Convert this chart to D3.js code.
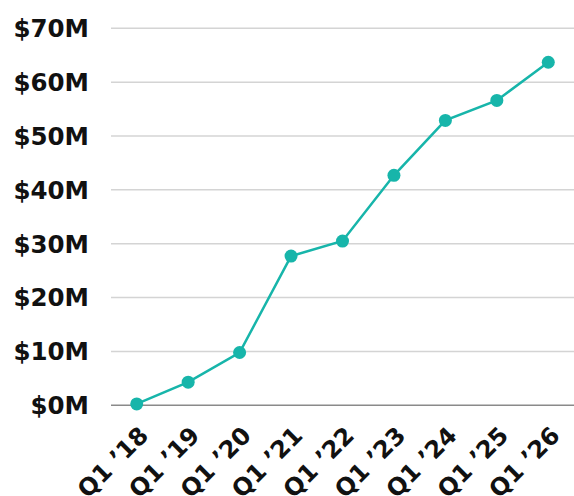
<!DOCTYPE html>
<html>
<head>
<meta charset="utf-8">
<script src="https://cdn.jsdelivr.net/npm/d3@7/dist/d3.min.js"></script>
<style>
  body { margin: 0; background: #fff; }
  text { font-family: "DejaVu Sans", sans-serif; font-weight: 700; fill: #111; }
</style>
</head>
<body>
<div id="main"></div>
<script>
const ctx = {
    w: 574,
    h: 496,
};

const quarters = ["Q1 \u201918", "Q1 \u201919", "Q1 \u201920", "Q1 \u201921", "Q1 \u201922",
                  "Q1 \u201923", "Q1 \u201924", "Q1 \u201925", "Q1 \u201926"];
const revenue = [0.25, 4.3, 9.8, 27.7, 30.5, 42.7, 52.9, 56.6, 63.7]; // $M
const yTicks = [0, 10, 20, 30, 40, 50, 60, 70];

function createChart(svg) {
    let x = d3.scalePoint()
              .domain(quarters)
              .range([111, ctx.w])
              .padding(0.5);
    let y = d3.scaleLinear()
              .domain([0, 70])
              .range([405.3, 28.3]);

    // grid
    svg.append("g")
       .selectAll("line")
       .data(yTicks)
       .enter().append("line")
       .attr("x1", 111)
       .attr("x2", ctx.w)
       .attr("y1", d => y(d))
       .attr("y2", d => y(d))
       .style("stroke", d => d == 0 ? "#8a8a8a" : "#d4d4d4")
       .style("stroke-width", 1.5);

    // y labels
    svg.append("g")
       .selectAll("text")
       .data(yTicks)
       .enter().append("text")
       .attr("x", 89)
       .attr("y", d => y(d))
       .attr("dy", "0.36em")
       .attr("text-anchor", "end")
       .style("font-size", "24.5px")
       .text(d => "$" + d + "M");

    // x labels
    svg.append("g")
       .selectAll("text")
       .data(quarters)
       .enter().append("text")
       .attr("transform", d => `translate(${x(d) + 13}, 437) rotate(-45)`)
       .attr("text-anchor", "end")
       .style("font-size", "24px")
       .text(d => d);

    let line = d3.line()
                 .x((d, i) => x(quarters[i]))
                 .y(d => y(d));

    svg.append("path")
       .datum(revenue)
       .attr("d", line)
       .style("fill", "none")
       .style("stroke", "#17b5aa")
       .style("stroke-width", 2.5);

    svg.append("g")
       .selectAll("circle")
       .data(revenue)
       .enter().append("circle")
       .attr("cx", (d, i) => x(quarters[i]))
       .attr("cy", d => y(d))
       .attr("r", 6.5)
       .style("fill", "#17b5aa");
}

let svgEl = d3.select("#main").append("svg")
              .attr("width", ctx.w)
              .attr("height", ctx.h);
createChart(svgEl);
</script>
</body>
</html>
